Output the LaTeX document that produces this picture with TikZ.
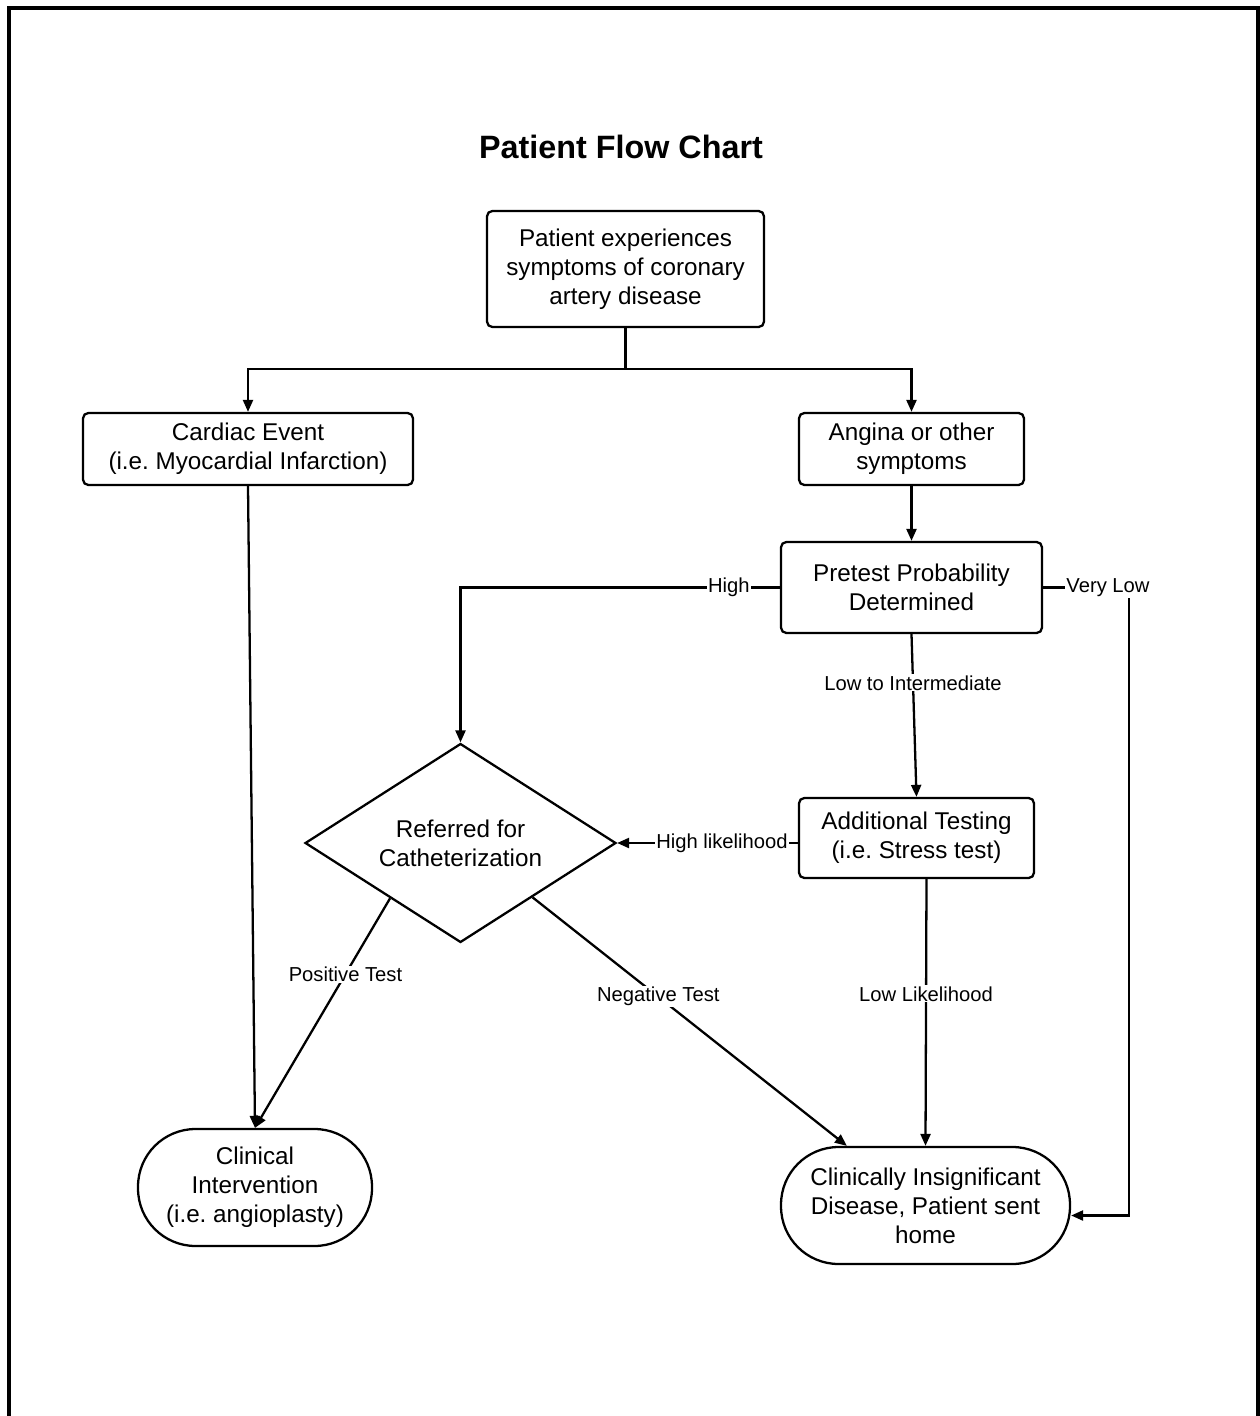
\documentclass[tikz,border=0pt]{standalone}
\usepackage{fontspec}
\setmainfont{Liberation Sans}
\usepackage{tikz}
\usetikzlibrary{arrows.meta, positioning, shapes.geometric, calc}
\frenchspacing
\newcommand{\boxfont}{\fontsize{13.8pt}{16.5pt}\selectfont}
\newcommand{\lblfont}{\fontsize{11.5pt}{13pt}\selectfont}

\begin{document}
\begin{tikzpicture}[x=0.02cm, y=-0.02cm,
    flowbox/.style={draw, line width=1.3pt, rounded corners=3pt, align=center,
                    font=\boxfont, inner sep=0pt},
    endbox/.style={draw, line width=1.3pt, rounded corners=1.15cm, align=center,
                   font=\boxfont, inner sep=0pt},
    decision/.style={draw, diamond, line width=1.3pt, aspect=1.56, align=center,
                     font=\boxfont, inner sep=0pt,
                     minimum width=6.22cm, minimum height=3.98cm},
    flow/.style={line width=1.3pt, -{Triangle[length=0.24cm, width=0.2cm]}},
    flowline/.style={line width=1.3pt},
    lbl/.style={fill=white, inner sep=0.6pt, font=\lblfont}]
  \useasboundingbox (0,0) rectangle (1259,1416);

  % Frame
  \draw[line width=2.2pt] (9,1416) -- (9,8) -- (1258,8) -- (1258,1416);

  % Title
  \node[font=\fontsize{18.4pt}{22pt}\selectfont\bfseries] (title) at (621,147) {Patient Flow Chart};

  % Boxes
  \node[flowbox, minimum width=5.54cm, minimum height=2.32cm] (start) at (625.5,269)
       {Patient experiences\\symptoms of coronary\\artery disease};
  \node[flowbox, minimum width=6.6cm, minimum height=1.44cm] (cardiac) at (248,449)
       {Cardiac Event\\(i.e. Myocardial Infarction)};
  \node[flowbox, minimum width=4.5cm, minimum height=1.44cm] (angina) at (911.5,449)
       {Angina or other\\symptoms};
  \node[flowbox, minimum width=5.22cm, minimum height=1.82cm] (pretest) at (911.5,587.5)
       {Pretest Probability\\Determined};
  \node[flowbox, minimum width=4.7cm, minimum height=1.6cm] (addl) at (916.5,838)
       {Additional Testing\\(i.e. Stress test)};
  \node[decision] (cath) at (460.5,843) {Referred for\\Catheterization};

  % End states
  \node[endbox, minimum width=4.68cm, minimum height=2.34cm] (interv) at (255,1187.5)
       {Clinical\\Intervention\\(i.e. angioplasty)};
  \node[endbox, minimum width=5.78cm, minimum height=2.34cm] (insig) at (925.5,1205.5)
       {Clinically Insignificant\\Disease, Patient sent\\home};

  % Connectors
  \coordinate (split) at (625.5,369);
  \draw[flowline] (start.south) -- (split);
  \draw[flow] (split) -| (cardiac.north);
  \draw[flow] (split) -| (angina.north);
  \draw[flow] (angina.south) -- (pretest.north);

  \draw[flow] (pretest.west) -| (cath.north)
       node[lbl, pos=0.08] {High};
  \coordinate (vlcorner) at (1129,587.5);
  \draw[flow] (pretest.east) -- (vlcorner) |- ([yshift=-0.2cm]insig.east);
  \node[lbl] (vlow) at (1108,587.5) {Very Low};

  \draw[flow] (pretest.south) -- (addl.north)
       node[lbl, pos=0.3] {Low to Intermediate};
  \draw[flow] (addl.west |- cath.east) -- (cath.east)
       node[lbl, pos=0.42] {High likelihood};
  \draw[flow] ([xshift=0.2cm]addl.south) -- (insig.north)
       node[lbl, pos=0.43] {Low Likelihood};

  \draw[flow] (cardiac.south) -- (interv.north);
  \coordinate (posout) at ($(cath.west)!0.55!(cath.south)$);
  \coordinate (negout) at ($(cath.south)!0.46!(cath.east)$);
  \draw[flow] (posout) -- (interv.north)
       node[lbl, pos=0.33] {Positive Test};
  \draw[flow] (negout) -- ([xshift=1.34cm]insig.north west)
       node[lbl, pos=0.4] {Negative Test};
\end{tikzpicture}
\end{document}
